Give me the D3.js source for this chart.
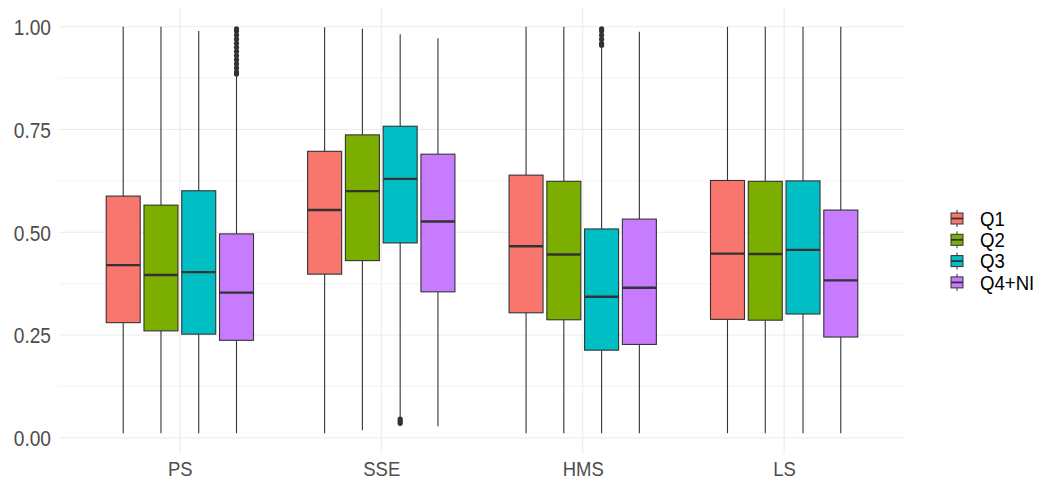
<!DOCTYPE html>
<html>
<head>
<meta charset="utf-8">
<script src="https://cdn.jsdelivr.net/npm/d3@7"></script>
<style>
  body { margin: 0; background: #fff; }
  text { font-family: "Liberation Sans", Arial, sans-serif; }
</style>
</head>
<body>
<div id="chart"></div>
<script>
// Data
const categories = ["PS", "SSE", "HMS", "LS"];
const groups = ["Q1", "Q2", "Q3", "Q4+NI"];
const colors = ["#F8766D", "#7CAE00", "#00BFC4", "#C77CFF"];
const yTicks = [0, 0.25, 0.5, 0.75, 1];

// [category][group]
const whiskerLow = [
    [0.011, 0.011, 0.011, 0.011],
    [0.011, 0.018, 0.050, 0.028],
    [0.011, 0.011, 0.011, 0.011],
    [0.011, 0.011, 0.011, 0.011]
];
const boxLow = [
    [0.280, 0.260, 0.252, 0.237],
    [0.398, 0.431, 0.474, 0.355],
    [0.304, 0.287, 0.213, 0.227],
    [0.288, 0.286, 0.301, 0.245]
];
const medians = [
    [0.420, 0.396, 0.403, 0.353],
    [0.554, 0.600, 0.630, 0.526],
    [0.466, 0.446, 0.343, 0.365],
    [0.448, 0.447, 0.457, 0.383]
];
const boxHigh = [
    [0.588, 0.566, 0.601, 0.496],
    [0.697, 0.737, 0.758, 0.690],
    [0.639, 0.624, 0.508, 0.532],
    [0.626, 0.624, 0.625, 0.554]
];
const whiskerHigh = [
    [1.000, 1.000, 0.990, 0.880],
    [0.999, 0.995, 0.982, 0.972],
    [1.000, 1.000, 0.949, 0.988],
    [1.000, 1.000, 1.000, 1.000]
];
// outliers: [category, group, values]
const outliers = [
    ["PS", "Q4+NI", [0.885, 0.89, 0.90, 0.91, 0.92, 0.93, 0.94, 0.95, 0.96, 0.97, 0.98, 0.99, 0.995]],
    ["SSE", "Q3", [0.035, 0.04, 0.045]],
    ["HMS", "Q3", [0.955, 0.96, 0.97, 0.98, 0.99, 0.995]]
];

const width = 1050, height = 480;
const panel = { left: 59, right: 905, top: 7, bottom: 454 };

const svg = d3.select("#chart")
    .append("svg")
    .attr("width", width)
    .attr("height", height);

// scales
const y = d3.scaleLinear()
    .domain([0, 1])
    .range([437.7, 26.8]);

const x = d3.scalePoint()
    .domain(categories)
    .range([panel.left, panel.right])
    .padding(0.6);

const xGroup = d3.scaleBand()
    .domain(groups)
    .range([-0.375 * x.step(), 0.375 * x.step()])
    .paddingInner(0.1)
    .paddingOuter(0.05);

// grid lines (minor, then major)
const minorTicks = [0.125, 0.375, 0.625, 0.875];
svg.append("g").selectAll("line")
    .data(minorTicks)
    .join("line")
    .attr("x1", panel.left).attr("x2", panel.right)
    .attr("y1", d => y(d)).attr("y2", d => y(d))
    .attr("stroke", "#EBEBEB").attr("stroke-width", 0.6);

svg.append("g").selectAll("line")
    .data(yTicks)
    .join("line")
    .attr("x1", panel.left).attr("x2", panel.right)
    .attr("y1", d => y(d)).attr("y2", d => y(d))
    .attr("stroke", "#EBEBEB").attr("stroke-width", 1.1);

svg.append("g").selectAll("line")
    .data(categories)
    .join("line")
    .attr("x1", d => x(d)).attr("x2", d => x(d))
    .attr("y1", panel.top).attr("y2", panel.bottom)
    .attr("stroke", "#EBEBEB").attr("stroke-width", 1.1);

// axes (the reference uses a condensed face, so the text is squeezed a little)
svg.append("g")
    .attr("transform", `translate(${panel.left - 8},0)`)
    .call(d3.axisLeft(y).tickValues(yTicks).tickFormat(d3.format(".2f")).tickSize(0))
    .call(g => g.select(".domain").remove())
    .selectAll("text")
    .attr("x", 0)
    .attr("dy", "0.36em")
    .attr("transform", "scale(0.87,1)")
    .style("font-size", "22px")
    .style("fill", "#4D4D4D");

svg.append("g")
    .attr("transform", `translate(0,${panel.bottom})`)
    .call(d3.axisBottom(x).tickSize(0))
    .call(g => g.select(".domain").remove())
    .selectAll("text")
    .attr("y", 22)
    .attr("dy", 0)
    .attr("transform", "scale(0.88,1)")
    .style("font-size", "21px")
    .style("fill", "#4D4D4D");

// boxes
const boxes = [];
categories.forEach((c, i) => {
    groups.forEach((g, j) => {
        boxes.push({
            cat: c, group: g, color: colors[j],
            lo: whiskerLow[i][j], q1: boxLow[i][j], med: medians[i][j],
            q3: boxHigh[i][j], hi: whiskerHigh[i][j]
        });
    });
});

const cx = d => x(d.cat) + xGroup(d.group) + xGroup.bandwidth() / 2;
const bw = xGroup.bandwidth();

const boxG = svg.append("g");
// whiskers
boxG.selectAll(".wup")
    .data(boxes)
    .join("line")
    .attr("x1", cx).attr("x2", cx)
    .attr("y1", d => y(d.q3)).attr("y2", d => y(d.hi))
    .attr("stroke", "#333333").attr("stroke-width", 1.1);
boxG.selectAll(".wdown")
    .data(boxes)
    .join("line")
    .attr("x1", cx).attr("x2", cx)
    .attr("y1", d => y(d.q1)).attr("y2", d => y(d.lo))
    .attr("stroke", "#333333").attr("stroke-width", 1.1);
// rectangles
boxG.selectAll("rect")
    .data(boxes)
    .join("rect")
    .attr("x", d => cx(d) - bw / 2)
    .attr("width", bw)
    .attr("y", d => y(d.q3))
    .attr("height", d => y(d.q1) - y(d.q3))
    .attr("fill", d => d.color)
    .attr("stroke", "#333333")
    .attr("stroke-width", 1.1);
// medians
boxG.selectAll(".med")
    .data(boxes)
    .join("line")
    .attr("x1", d => cx(d) - bw / 2).attr("x2", d => cx(d) + bw / 2)
    .attr("y1", d => y(d.med)).attr("y2", d => y(d.med))
    .attr("stroke", "#333333").attr("stroke-width", 2.4);

// outlier points
const points = [];
outliers.forEach(([c, g, vals]) => vals.forEach(v => points.push({ cat: c, group: g, v: v })));
svg.append("g").selectAll("circle")
    .data(points)
    .join("circle")
    .attr("cx", cx)
    .attr("cy", d => y(d.v))
    .attr("r", 2.6)
    .attr("fill", "#333333");

// legend
const legend = svg.append("g").attr("transform", "translate(950,208)");
const rowH = 21.3;
const keys = legend.selectAll("g")
    .data(groups)
    .join("g")
    .attr("transform", (d, i) => `translate(0,${i * rowH})`);
keys.append("line")
    .attr("x1", 7).attr("x2", 7).attr("y1", 2).attr("y2", 19)
    .attr("stroke", "#333333").attr("stroke-width", 1);
keys.append("rect")
    .attr("x", 1).attr("y", 5).attr("width", 12).attr("height", 11)
    .attr("fill", (d, i) => colors[i])
    .attr("stroke", "#333333").attr("stroke-width", 1);
keys.append("line")
    .attr("x1", 1).attr("x2", 13).attr("y1", 10.5).attr("y2", 10.5)
    .attr("stroke", "#333333").attr("stroke-width", 1.8);
keys.append("g")
    .attr("transform", "translate(30,10.5)")
    .append("text")
    .attr("dy", "0.36em")
    .attr("transform", "scale(0.93,1)")
    .style("font-size", "20px")
    .style("fill", "#000")
    .text(d => d);
</script>
</body>
</html>
